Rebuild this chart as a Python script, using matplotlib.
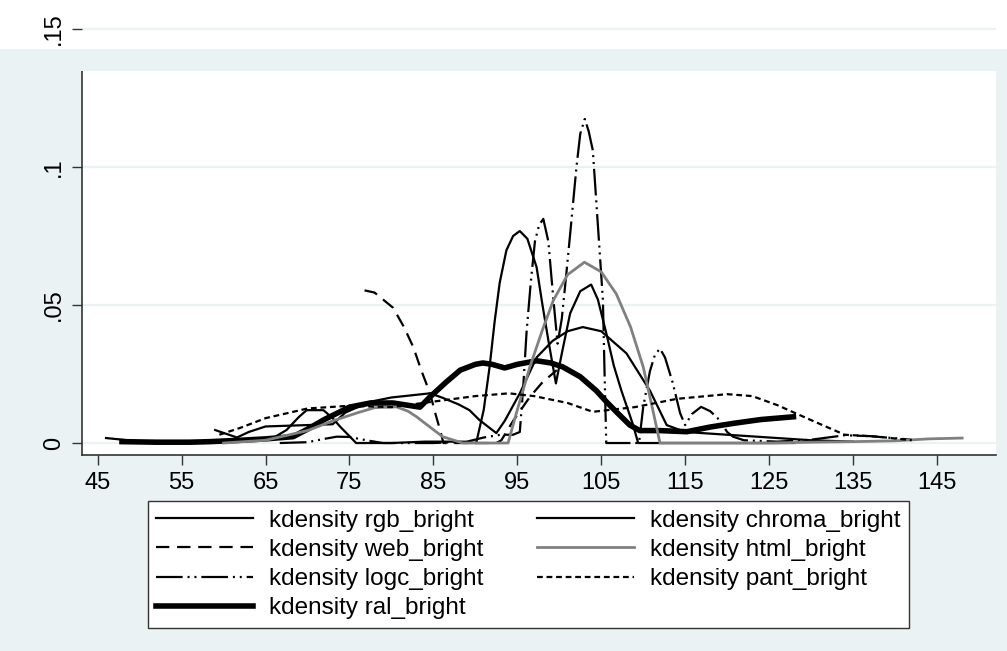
import matplotlib
matplotlib.use("Agg")
import matplotlib.pyplot as plt
from matplotlib.patches import Rectangle

# kdensity curves (x = brightness, y = density)
rgb_x = [46, 48, 50, 55, 60, 64, 66, 67.5, 69, 69.9, 71.9, 73, 73.9, 75.8, 80, 84, 88, 90.1,
         91, 91.7, 92.3, 92.9, 93.7, 94.5, 95.3, 96.2, 97.3, 98, 98.7, 99.6, 100.3, 101.3,
         102.5, 103.8, 104.6, 105.6, 106.5, 107.4, 108.3, 108.8, 109.4, 115, 128]
rgb_y = [0.0018, 0.0012, 0.0005, 0.0003, 0.0005, 0.001, 0.002, 0.0047, 0.0095, 0.0119, 0.0119,
         0.009, 0.0059, 0.0, 0.0, 0.0005, 0.0005, 0.0,
         0.012, 0.0276, 0.044, 0.058, 0.0698, 0.075, 0.0768, 0.074, 0.0637, 0.05, 0.0372, 0.0216,
         0.0324, 0.047, 0.055, 0.0574, 0.052, 0.0398, 0.028, 0.019, 0.011, 0.0065, 0.0, 0.0, 0.0]

chroma_x = [59, 61.6, 63, 65, 70, 73, 74.5, 77.4, 80, 84.6, 86, 88, 89.3, 90.5, 92.5, 93.5,
            95.3, 97.3, 99.2, 101, 102.8, 105, 108, 110.8, 112.8, 115, 120, 125, 130, 135]
chroma_y = [0.0047, 0.002, 0.004, 0.006, 0.0065, 0.0068, 0.011, 0.0149, 0.0165, 0.018, 0.0165,
            0.014, 0.0119, 0.0083, 0.0036, 0.008, 0.018, 0.031, 0.037, 0.0405, 0.042, 0.0405,
            0.0325, 0.019, 0.0065, 0.004, 0.003, 0.002, 0.001, 0.0005]

web_x = [76.8, 78, 79, 80.2, 81.5, 82.6, 83.6, 84.6, 85.3, 85.8, 86.2, 88, 90, 92.5, 93.1,
         94.5, 96.5, 98, 99.7]
web_y = [0.0553, 0.0545, 0.052, 0.049, 0.042, 0.0348, 0.026, 0.018, 0.01, 0.0047, 0.0, 0.0,
         0.0, 0.0, 0.001, 0.008, 0.0167, 0.022, 0.0264]

html_x = [60, 65, 70, 73, 76, 78, 80.6, 82, 83, 84.5, 86.1, 88.5, 93.9, 95, 96.5, 98, 99.3,
          101, 103, 105, 106.8, 108.5, 110, 111, 112, 125, 130, 135, 140, 144, 148]
html_y = [0.0, 0.001, 0.0045, 0.008, 0.011, 0.0128, 0.0131, 0.0115, 0.0095, 0.006, 0.0023, 0.0,
          0.0, 0.012, 0.0276, 0.041, 0.0517, 0.061, 0.0655, 0.062, 0.054, 0.042, 0.0276, 0.014,
          0.0, 0.0, 0.0003, 0.0005, 0.0008, 0.0015, 0.0018]

logc_x = [66.7, 70, 72, 73.5, 75, 77, 79, 85, 89, 91, 93, 94.5, 95.3, 95.7, 96.1, 96.6, 97.1,
          97.6, 98.1, 98.7, 99.3, 99.8, 100.3, 100.8, 101.3, 102.05, 102.5, 103.04, 103.5,
          104.0, 104.4, 104.8, 105.2, 105.4, 105.6, 109.5, 110, 110.8, 111.4, 112, 112.6,
          113.5, 114.4, 115, 115.8, 116.9, 118, 119.1, 120, 120.7, 122, 126, 130, 134, 137, 142]
logc_y = [0.0, 0.0003, 0.0015, 0.0023, 0.0022, 0.001, 0.0, 0.0, 0.0005, 0.002, 0.003, 0.003,
          0.004, 0.02, 0.04, 0.058, 0.073, 0.079, 0.0812, 0.073, 0.052, 0.036, 0.045, 0.06,
          0.0758, 0.1, 0.112, 0.1174, 0.113, 0.106, 0.088, 0.07, 0.0517, 0.025, 0.0, 0.0,
          0.013, 0.026, 0.032, 0.0342, 0.031, 0.022, 0.0108, 0.0065, 0.0105, 0.0131, 0.0115,
          0.0083, 0.004, 0.0023, 0.001, 0.0005, 0.0012, 0.0028, 0.0025, 0.0012]

pant_x = [59.5, 62, 65, 70, 75, 80, 85, 90, 94, 97, 101, 104, 106, 109, 114, 120, 123, 126,
          130, 134, 138, 142]
pant_y = [0.003, 0.0055, 0.009, 0.0125, 0.0135, 0.013, 0.015, 0.017, 0.018, 0.017, 0.0145,
          0.0113, 0.012, 0.013, 0.016, 0.0177, 0.017, 0.0137, 0.0083, 0.003, 0.0023, 0.001]

ral_x = [47.9, 52, 56, 58.4, 62, 65, 68.3, 70, 72, 75, 77.5, 80.2, 83.4, 84.6, 86.5, 88.2, 90,
         90.9, 92, 93.5, 95, 97.3, 99, 100.4, 102.5, 104.4, 105.6, 106.8, 108.4, 109.6, 112,
         115.2, 118, 120.7, 124, 127.9]
ral_y = [0.0005, 0.0003, 0.0003, 0.0005, 0.001, 0.0015, 0.0023, 0.005, 0.0085, 0.013, 0.0145,
         0.0145, 0.013, 0.0167, 0.022, 0.0264, 0.0285, 0.029, 0.0285, 0.0272, 0.0285, 0.0298,
         0.029, 0.0276, 0.024, 0.019, 0.015, 0.0113, 0.0065, 0.0045, 0.0045, 0.0041, 0.0058,
         0.0071, 0.0085, 0.0095]

x_ticks = list(range(45, 146, 10))
y_ticks = [0, 0.05, 0.1, 0.15]
y_labels = ["0", ".05", ".1", ".15"]

bg = "#EAF2F3"
plt.rcParams["font.family"] = ["Liberation Sans", "DejaVu Sans"]

W, H = 1007, 651
fig = plt.figure(figsize=(W / 100, H / 100), dpi=100, facecolor=bg)
# white strip at the very top
fig.patches.append(Rectangle((0, 1 - 49 / H), 1, 49 / H, transform=fig.transFigure,
                             facecolor="white", edgecolor="none", zorder=-1))

ax = fig.add_axes([81.7 / W, (H - 455) / H, (995.7 - 81.7) / W, (455 - 20) / H])
ax.set_facecolor("white")

lw = 1.6
ax.plot(rgb_x, rgb_y, color="black", lw=lw, label="kdensity rgb_bright")
ax.plot(web_x, web_y, color="black", lw=lw, ls=(0, (6, 3.5)), label="kdensity web_bright")
ax.plot(logc_x, logc_y, color="black", lw=lw, ls=(0, (12, 2.2, 0.9, 2.2, 0.9, 2.2)),
        label="kdensity logc_bright")
ax.plot(ral_x, ral_y, color="black", lw=4, label="kdensity ral_bright")
ax.plot(chroma_x, chroma_y, color="black", lw=lw, label="kdensity chroma_bright")
ax.plot(html_x, html_y, color="#808080", lw=2.0, label="kdensity html_bright")
ax.plot(pant_x, pant_y, color="black", lw=lw, ls=(0, (2.6, 1.7)), label="kdensity pant_bright")

ax.set_xlim(43.1, 152.0)
ax.set_ylim(-0.00434, 0.15325)
ax.set_xticks(x_ticks)
ax.set_yticks(y_ticks)
ax.set_yticklabels(y_labels)
ax.grid(axis="y", color=bg, lw=1.6, zorder=0)
ax.set_axisbelow(True)
for s in ["top", "right"]:
    ax.spines[s].set_visible(False)
for s in ["left", "bottom"]:
    ax.spines[s].set_color("#333333")
    ax.spines[s].set_linewidth(1.2)
ax.spines["left"].set_bounds(-0.00434, 0.1346)
ax.tick_params(axis="both", length=7, width=1, color="#333333", labelsize=17)
ax.tick_params(axis="x", pad=5)
ax.tick_params(axis="y", pad=5, labelrotation=90)
for t in ax.get_yticklabels():
    t.set_va("center")

# light band between the top strip and the plot region (drawn over the axes)
fig.add_artist(Rectangle((0, 1 - 70.7 / H), 1, (70.7 - 49) / H, transform=fig.transFigure,
                         facecolor=bg, edgecolor="none", zorder=5))

leg = fig.legend(loc="upper left", ncol=2,
                 bbox_to_anchor=(147.7 / W, 1 - 501 / H),
                 fontsize=17.5, frameon=True, fancybox=False, edgecolor="#333333",
                 facecolor="white", framealpha=1,
                 handlelength=4.0, handletextpad=0.65, labelspacing=0.3,
                 columnspacing=2.2, borderpad=0.35, borderaxespad=0.0)
leg.get_frame().set_linewidth(1.0)
leg.set_zorder(6)

fig.savefig("out.png", dpi=100, facecolor=bg)
